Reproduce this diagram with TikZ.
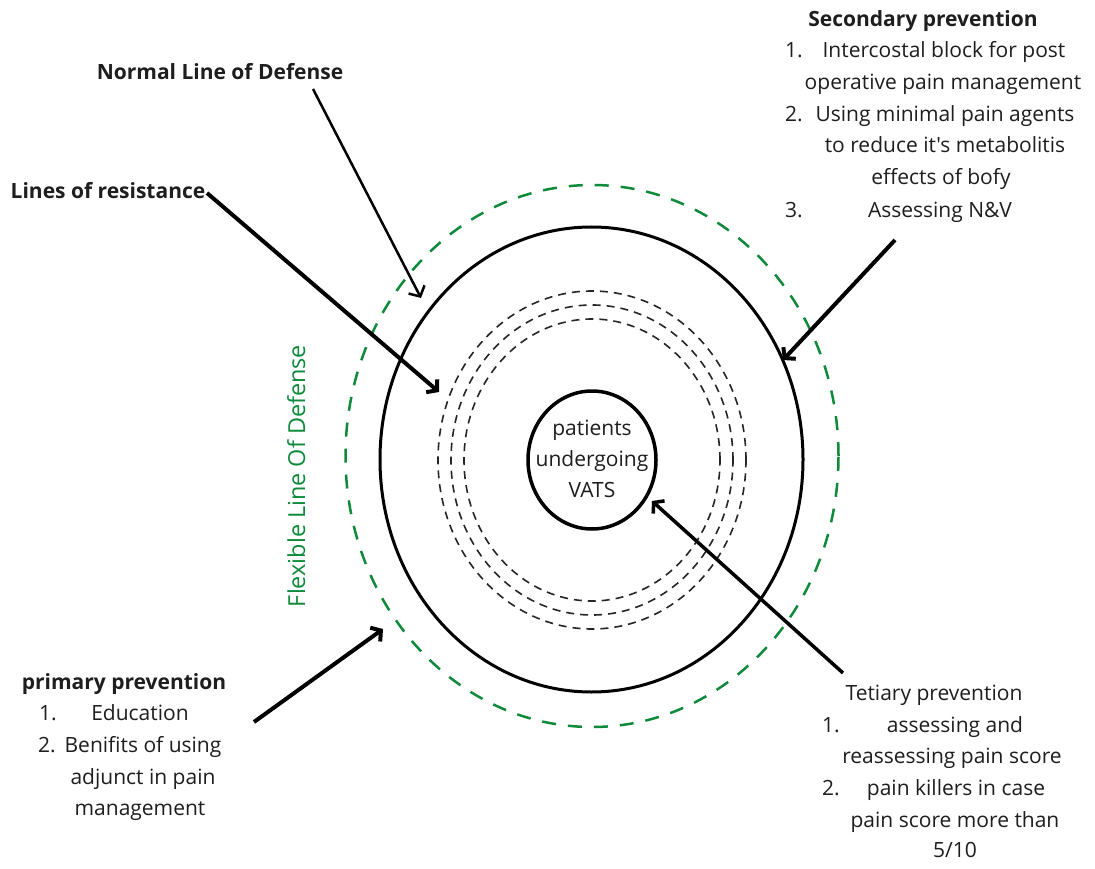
\documentclass[tikz,border=0pt]{standalone}
\usepackage{fontspec}
\setmainfont{Open Sans}[Ligatures=TeXOff]
\usetikzlibrary{arrows.meta}
\definecolor{flexgreen}{RGB}{14,138,58}
\definecolor{txtcol}{RGB}{30,30,30}
\tikzset{
  txt/.style={font=\fontsize{21}{32}\selectfont, text=txtcol, inner sep=0pt, text height=15pt, text depth=5pt},
  hd/.style={txt, font=\fontsize{21}{32}\selectfont\bfseries},
  num/.style={txt, anchor=west},
  flexline/.style={draw=flexgreen, line width=2.5pt, dash pattern=on 14pt off 12pt},
  normline/.style={draw=black, line width=3pt},
  resline/.style={draw=black!85, line width=1.6pt, dash pattern=on 8pt off 6pt},
  arr/.style={draw=black, line width=4pt, -{Straight Barb[length=7pt,width=17pt]}},
  thinarr/.style={draw=black, line width=2.5pt, -{Straight Barb[length=8pt,width=18pt]}}
}
\begin{document}
\begin{tikzpicture}[x=1pt,y=-1pt]
\useasboundingbox (0,0) rectangle (1095,869);
\fill[white] (0,0) rectangle (1095,869);

% rings
\draw[flexline] (592,456) ellipse [x radius=246.5pt, y radius=271pt];
\draw[normline] (591.5,459.5) ellipse [x radius=211.5pt, y radius=232.5pt];
\draw[resline] (592,460) ellipse [x radius=154pt, y radius=169pt];
\draw[resline] (592,460) ellipse [x radius=141pt, y radius=155pt];
\draw[resline] (592,460) ellipse [x radius=128pt, y radius=141pt];
\draw[black, line width=3.5pt] (592,460) ellipse [x radius=64pt, y radius=69pt];
\node[txt, align=center, text height=, text depth=, font=\fontsize{21}{31}\selectfont] (vats) at (592,459) {patients\\undergoing\\VATS};

% flexible line label
\node[txt, text=flexgreen, rotate=90, font=\fontsize{23.4}{32}\selectfont] (flex) at (300,476) {Flexible Line Of Defense};

% labels
\node[hd] (ndl) at (220,75) {Normal Line of Defense};
\node[hd] (lor) at (108,194) {Lines of resistance};

% secondary
\node[hd] (sech) at (923,22) {Secondary prevention};
\node[num] (sec1n) at (785,53) {1.};
\node[txt] (sec1a) at (944,53) {Intercostal block for post};
\node[txt] (sec1b) at (943,85) {operative pain management};
\node[num] (sec2n) at (785,117) {2.};
\node[txt] (sec2a) at (945,117) {Using minimal pain agents};
\node[txt] (sec2b) at (945,148) {to reduce it's metabolitis};
\node[txt] (sec2c) at (941,180) {effects of bofy};
\node[num] (sec3n) at (785,213) {3.};
\node[txt] (sec3a) at (940,213) {Assessing N\&V};

% primary
\node[hd] (prih) at (124,684) {primary prevention};
\node[num] (pri1n) at (39,715) {1.};
\node[txt] (pri1a) at (140,715) {Education};
\node[num] (pri2n) at (38,747) {2.};
\node[txt] (pri2a) at (143,747) {Benifits of using};
\node[txt] (pri2b) at (143,779) {adjunct in pain};
\node[txt] (pri2c) at (140,810) {management};

% tertiary
\node[txt] (terh) at (934,695) {Tetiary prevention};
\node[num] (ter1n) at (822,727) {1.};
\node[txt] (ter1a) at (955,727) {assessing and};
\node[txt] (ter1b) at (952,758) {reassessing pain score};
\node[num] (ter2n) at (822,790) {2.};
\node[txt] (ter2a) at (956,790) {pain killers in case};
\node[txt] (ter2b) at (955,822) {pain score more than};
\node[txt] (ter2c) at (955,852) {5/10};

% arrow end points
\coordinate (ndlS) at (313,89);
\coordinate (ndlT) at (421,298);
\coordinate (lorS) at (207,193);
\coordinate (lorT) at (439,392);
\coordinate (secS) at (895,240);
\coordinate (secT) at (783,360);
\coordinate (priS) at (254,722);
\coordinate (priT) at (383,629);
\coordinate (terS) at (843,673);
\coordinate (terT) at (652,501);

\draw[thinarr] (ndlS) -- (ndlT);
\draw[arr] (lorS) -- (lorT);
\draw[arr] (secS) -- (secT);
\draw[arr] (priS) -- (priT);
\draw[arr, line width=3.5pt] (terS) -- (terT);
\end{tikzpicture}
\end{document}
